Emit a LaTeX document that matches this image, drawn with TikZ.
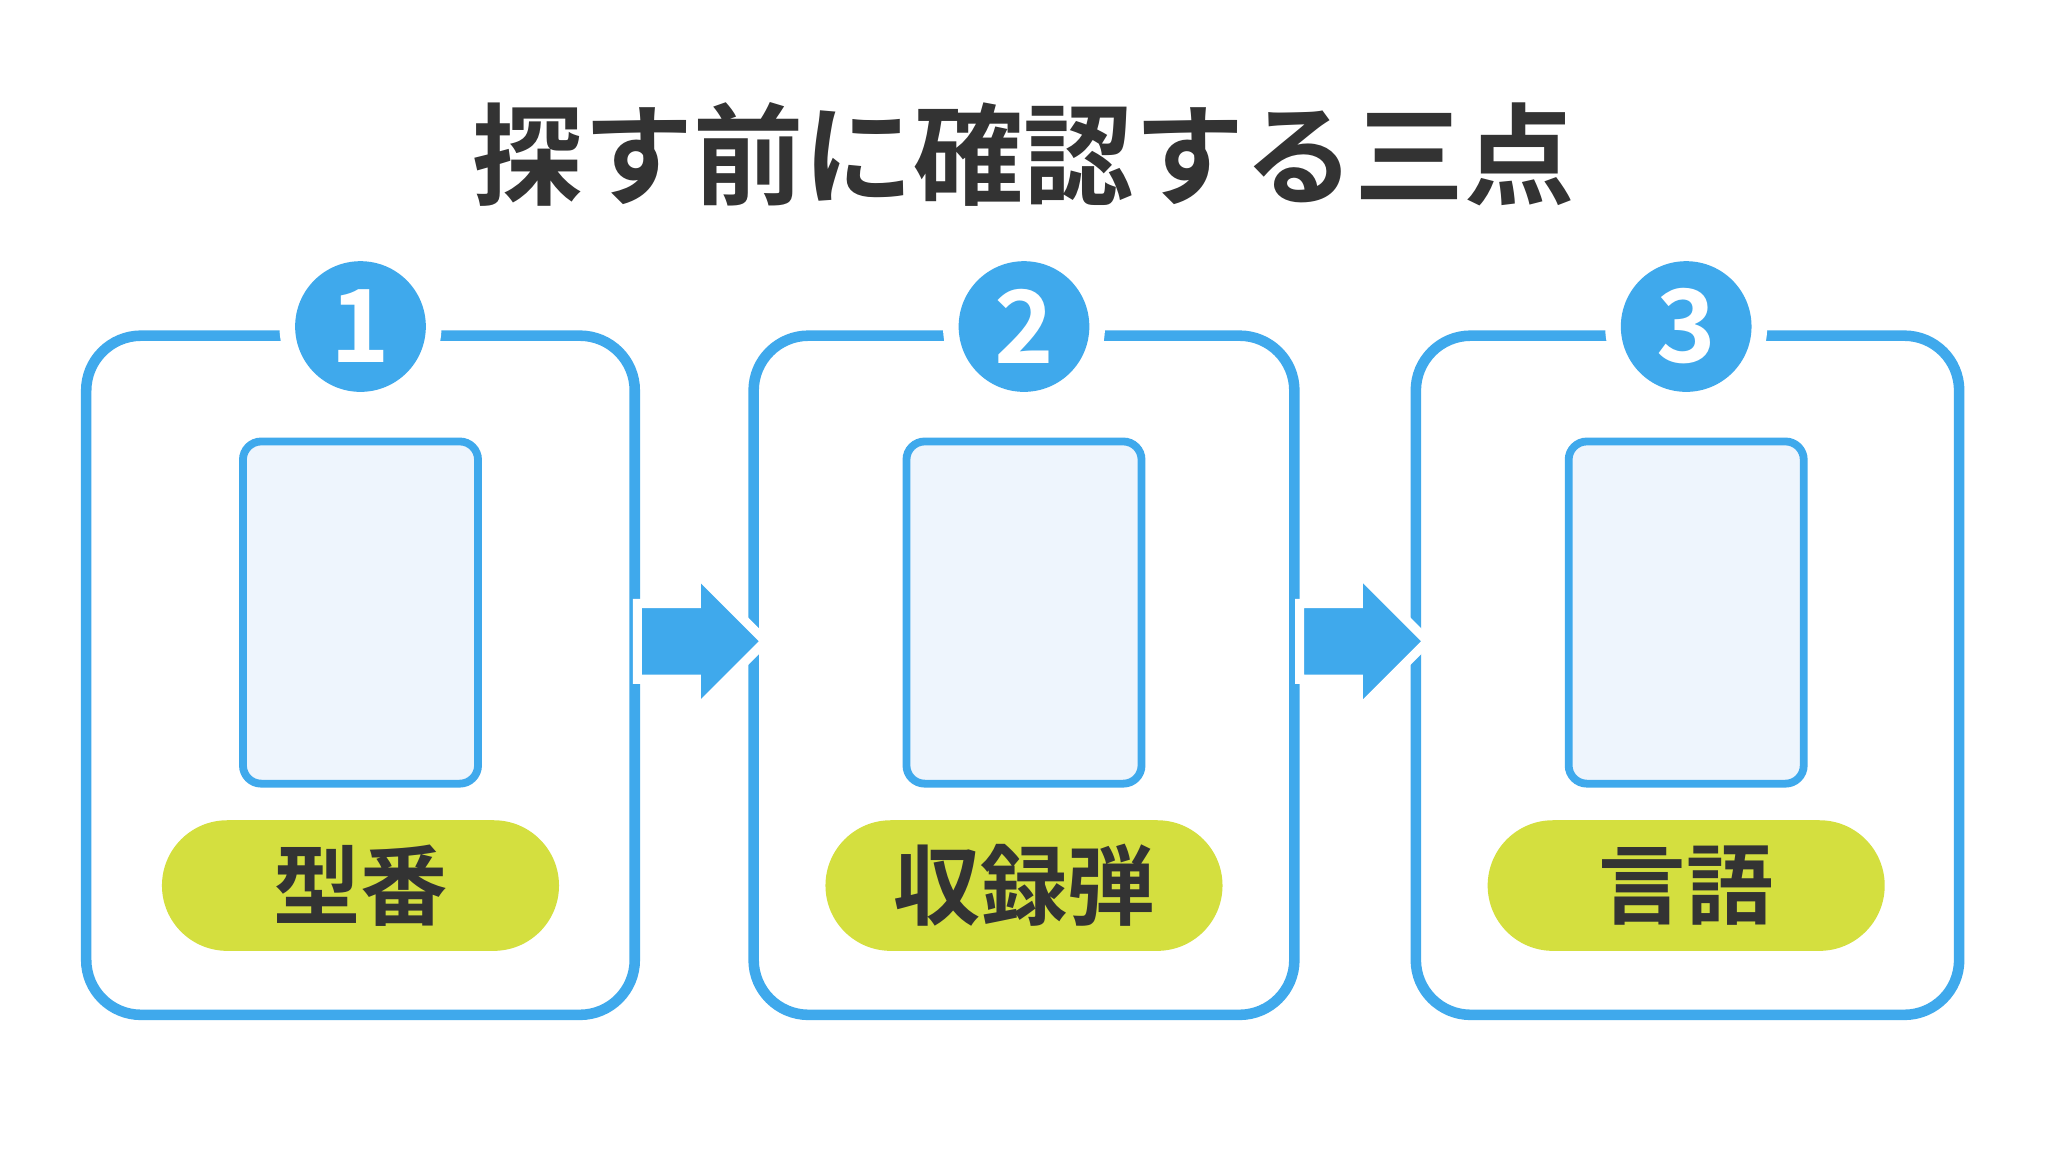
\documentclass[tikz,border=0pt]{standalone}
\usepackage{fontspec}
\setmainfont{Noto Sans CJK JP}[BoldFont={* Bold}]
\definecolor{bl}{HTML}{3FA9EC}
\definecolor{inn}{HTML}{EEF5FD}
\definecolor{lime}{HTML}{D4DF3F}
\definecolor{ink}{HTML}{333333}
\begin{document}
\begin{tikzpicture}[x=0.01cm,y=-0.01cm,
  panel/.style={draw=bl,line width=2.3pt,rounded corners=0.42cm},
  inner/.style={draw=bl,fill=inn,line width=1.7pt,rounded corners=0.14cm},
  pill/.style={fill=lime,rounded corners=0.5cm},
  badge/.style={circle,fill=bl,minimum size=1cm,inner sep=0pt,text=white,font=\bfseries\fontsize{22}{22}\selectfont},
  gap/.style={circle,fill=white,minimum size=1.24cm,inner sep=0pt},
  lab/.style={text=ink,font=\bfseries\fontsize{19}{19}\selectfont},
  arr/.style={fill=bl,draw=white,line width=2pt,line join=miter}]
\useasboundingbox[fill=white] (0,0) rectangle (1568,882);
\node[text=ink,font=\bfseries\fontsize{24}{24}\selectfont] (title) at (784,118) {探す前に確認する三点};
\foreach \cx/\a/\b/\n/\t in {276/66/486/1/型番, 784/577/991/2/収録弾, 1291/1084/1500/3/言語}{
  \draw[panel] (\a,257) rectangle (\b,777);
  \draw[inner] (\cx-90,338) rectangle (\cx+90,600);
  \fill[pill] (\cx-152,628) rectangle (\cx+152,728);
  \node[lab] (l\n) at (\cx,678) {\t};
  \node[gap] (g\n) at (\cx,250) {};
  \node[badge] (b\n) at (\cx,250) {\n};
}
\foreach \s in {486,993}{
  \draw[arr] (\s+2,462) -- (\s+47,462) -- (\s+47,438) -- (\s+100,491) -- (\s+47,544) -- (\s+47,520) -- (\s+2,520) -- cycle;
}
\end{tikzpicture}
\end{document}
